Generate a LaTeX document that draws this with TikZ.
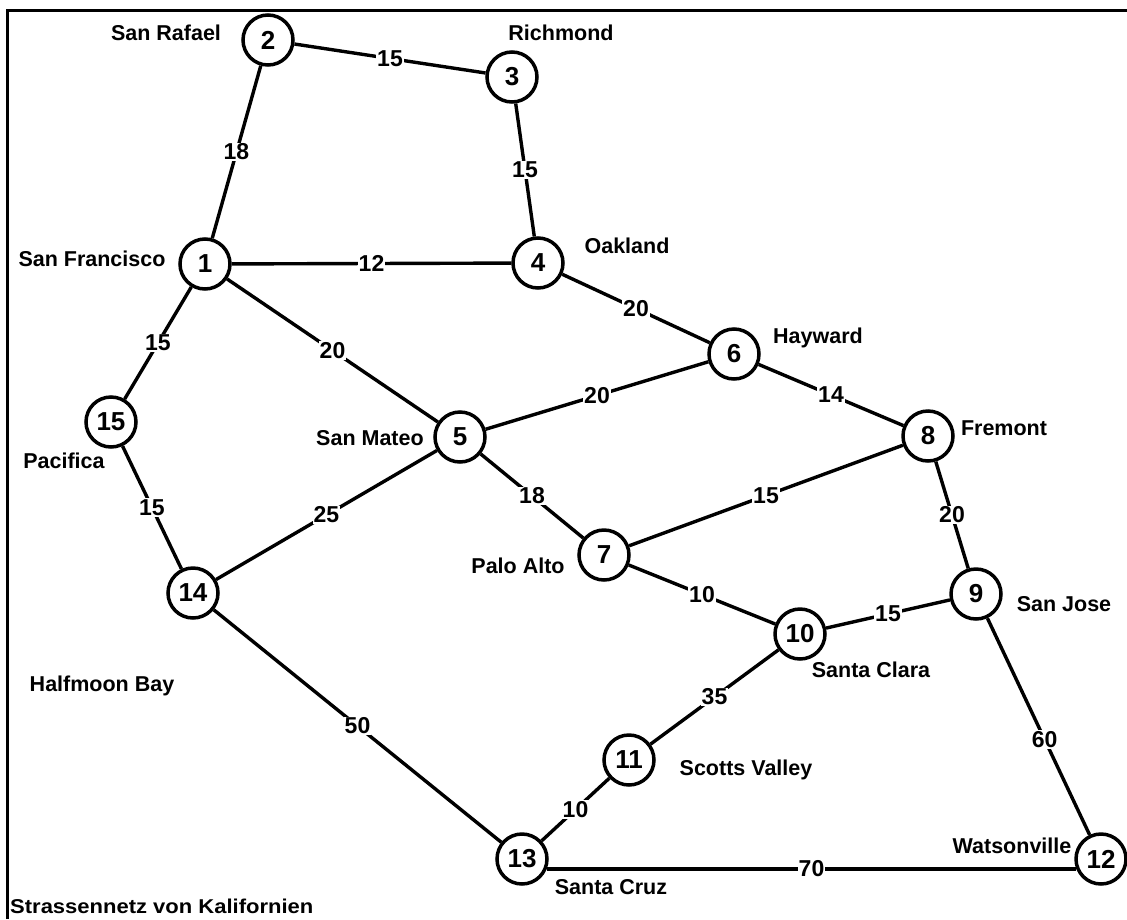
\documentclass[tikz,border=0pt]{standalone}
\usepackage{fontspec}
\setmainfont{Liberation Sans}
\usepackage{graphicx}
\begin{document}
\begin{tikzpicture}[x=1pt,y=-1pt,
  city/.style={circle, draw, line width=3.5pt, minimum size=50pt, inner sep=0pt, fill=white,
    font=\fontsize{26}{26}\selectfont\bfseries},
  place/.style={anchor=base, inner sep=0pt, font=\fontsize{21.5}{21.5}\selectfont\bfseries},
  road/.style={line width=3.4pt},
  dist/.style={fill=white, inner sep=1pt, font=\fontsize{23}{23}\selectfont\bfseries}]
\useasboundingbox (0,0) rectangle (1127,919);
\draw[line width=3pt] (7,919) -- (7,10) -- (1127,10);

% nodes
\node[city] (n1)  at (205,264) {1};
\node[city] (n2)  at (268,40)  {2};
\node[city] (n3)  at (512,77)  {3};
\node[city] (n4)  at (538,263) {4};
\node[city] (n5)  at (460,437) {5};
\node[city] (n6)  at (734,354) {6};
\node[city] (n7)  at (604,555) {7};
\node[city] (n8)  at (928,436) {8};
\node[city] (n9)  at (976,594) {9};
\node[city] (n10) at (800,634) {10};
\node[city] (n11) at (629,760) {11};
\node[city] (n12) at (1101,859) {12};
\node[city] (n13) at (522,859) {13};
\node[city] (n14) at (193,593) {14};
\node[city] (n15) at (111,422) {15};

% place names
\node[place] (l2)  at (166,40)  {San Rafael};
\node[place] (l3)  at (561,40)  {Richmond};
\node[place] (l1)  at (92,266)  {San Francisco};
\node[place] (l4)  at (627,253) {Oakland};
\node[place] (l6)  at (818,343) {Hayward};
\node[place] (l8)  at (1004,435) {Fremont};
\node[place] (l5)  at (370,445) {San Mateo};
\node[place] (l15) at (64,468)  {Pacifica};
\node[place] (l7)  at (518,573) {Palo Alto};
\node[place] (l9)  at (1064,611) {San Jose};
\node[place] (l14) at (102,691) {Halfmoon Bay};
\node[place] (l10) at (871,677) {Santa Clara};
\node[place] (l11) at (746,775) {Scotts Valley};
\node[place] (l13) at (611,894) {Santa Cruz};
\node[place] (l12) at (1012,853) {Watsonville};

\node[anchor=base west, inner sep=0pt, font=\fontsize{20}{20}\selectfont\bfseries] (cap) at (10,913)
  {\scalebox{1.1}[1]{Strassennetz von Kalifornien}};

% roads
\draw[road] (n2) -- node[dist]{15} (n3);
\draw[road] (n3) -- node[dist]{15} (n4);
\draw[road] (n2) -- node[dist]{18} (n1);
\draw[road] (n1) -- node[dist]{12} (n4);
\draw[road] (n1) -- node[dist]{15} (n15);
\draw[road] (n1) -- node[dist]{20} (n5);
\draw[road] (n4) -- node[dist]{20} (n6);
\draw[road] (n5) -- node[dist]{20} (n6);
\draw[road] (n6) -- node[dist]{14} (n8);
\draw[road] (n5) -- node[dist]{18} (n7);
\draw[road] (n7) -- node[dist]{15} (n8);
\draw[road] (n8) -- node[dist]{20} (n9);
\draw[road] (n15) -- node[dist]{15} (n14);
\draw[road] (n14) -- node[dist]{25} (n5);
\draw[road] (n7) -- node[dist]{10} (n10);
\draw[road] (n10) -- node[dist]{15} (n9);
\draw[road] (n10) -- node[dist]{35} (n11);
\draw[road] (n9) -- node[dist, pos=0.56]{60} (n12);
\draw[road] (n14) -- node[dist]{50} (n13);
\draw[road] (n11) -- node[dist]{10} (n13);
\draw[road] (n13.-22) -- node[dist]{70} (n12.202);
\end{tikzpicture}
\end{document}
